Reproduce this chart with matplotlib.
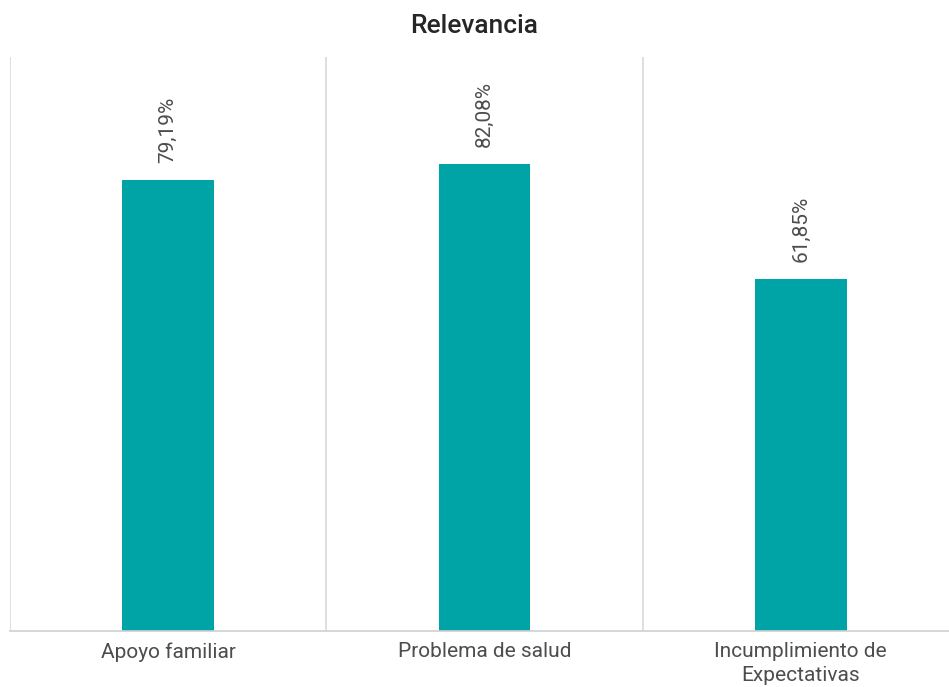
import matplotlib.pyplot as plt

# data
categories = ['Apoyo familiar', 'Problema de salud', 'Incumplimiento de\nExpectativas']
values = [79.19, 82.08, 61.85]
labels = ['79,19%', '82,08%', '61,85%']

plt.rcParams['font.family'] = ['Roboto', 'DejaVu Sans']

fig = plt.figure(figsize=(9.49, 6.87), dpi=100)
# axes runs past the right edge, like the original crop
ax = fig.add_axes([0.0105, 0.0815, 1.0, 0.8355])

x = range(len(categories))
bars = ax.bar(x, values, width=0.29, color='#00A3A6', zorder=2)

for b, lab in zip(bars, labels):
    ax.annotate(lab, (b.get_x() + b.get_width() / 2, b.get_height()),
                xytext=(0, 17), textcoords='offset pixels',
                rotation=90, ha='center', va='bottom',
                fontsize=15, fontweight='normal', color='#4d4d4d')

ax.set_xlim(-0.5, 2.5)
ax.set_ylim(0, 100.8)
ax.set_yticks([])
ax.set_xticks(list(x))
ax.set_xticklabels(categories, fontsize=15, fontweight='normal', color='#4d4d4d',
                   linespacing=1.3)
ax.set_xticks([-0.5, 0.5, 1.5, 2.5], minor=True)
ax.tick_params(axis='x', which='both', length=0, pad=8)
ax.grid(True, axis='x', which='minor', color='#d9d9d9', lw=1.2, zorder=0)

for s in ['top', 'left', 'right']:
    ax.spines[s].set_visible(False)
ax.spines['bottom'].set_color('#d0d0d0')
ax.spines['bottom'].set_linewidth(1.2)

fig.text(0.5, 0.962, 'Relevancia', ha='center', va='center',
         fontsize=19, fontweight='medium', color='#262626')

fig.savefig('out.png', dpi=100)
